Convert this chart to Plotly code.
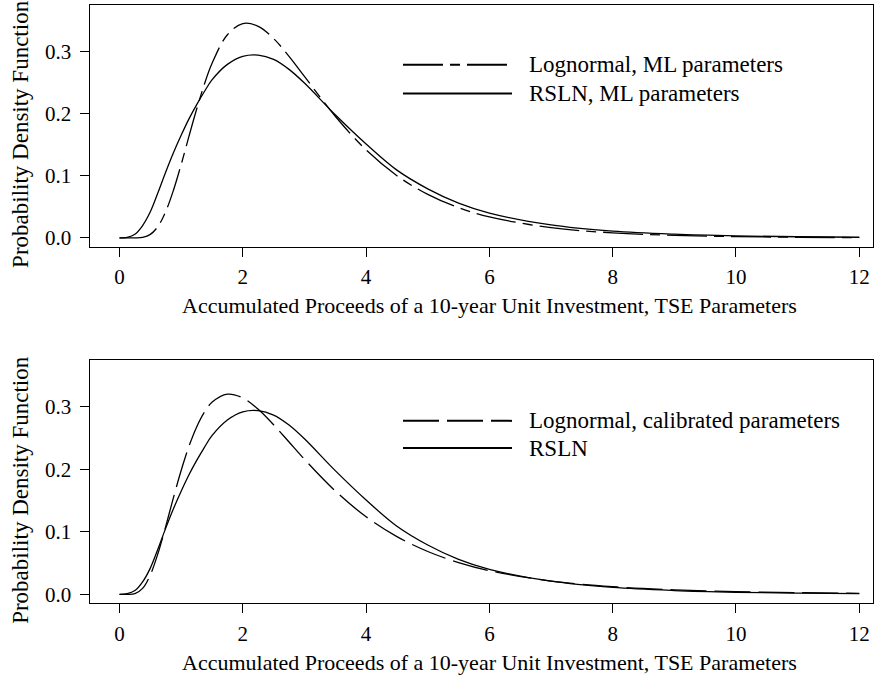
import plotly.graph_objects as go
from plotly.subplots import make_subplots

# values
x_grid = [0, 0.125, 0.25, 0.375, 0.5, 0.625, 0.75, 0.875, 1.0, 1.125, 1.25, 1.375,
          1.5, 1.75, 2.0, 2.25, 2.5, 2.75, 3.0, 3.5, 4.0, 4.5, 5.0, 5.5, 6.0,
          7.0, 8.0, 9.0, 10.0, 11.0, 12.0]
lognormal_ml = [0, 0, 0.0001, 0.0009, 0.0057, 0.0187, 0.0426, 0.0767, 0.118, 0.1628,
                0.2065, 0.2465, 0.2804, 0.3266, 0.3446, 0.3402, 0.3205, 0.2920,
                0.2597, 0.1956, 0.1415, 0.1001, 0.0700, 0.0487, 0.0339, 0.0165,
                0.0082, 0.0041, 0.0022, 0.0011, 0.0006]
rsln = [0, 0.001, 0.006, 0.020, 0.042, 0.073, 0.106, 0.137, 0.165, 0.191, 0.214,
        0.235, 0.254, 0.279, 0.292, 0.294, 0.287, 0.271, 0.249, 0.198, 0.151,
        0.109, 0.079, 0.056, 0.040, 0.021, 0.011, 0.006, 0.0033, 0.0019, 0.0011]
lognormal_cal = [0, 0, 0.0012, 0.0096, 0.0312, 0.0658, 0.1089, 0.1547, 0.1983,
                 0.2365, 0.2676, 0.2912, 0.3074, 0.3205, 0.3144, 0.2962, 0.2714,
                 0.2439, 0.2162, 0.1655, 0.1242, 0.0924, 0.0686, 0.0509, 0.0379,
                 0.0213, 0.0122, 0.0072, 0.0043, 0.0027, 0.0017]

x_ticks = [0, 2, 4, 6, 8, 10, 12]
y_ticks = [0.0, 0.1, 0.2, 0.3]
x_title = "Accumulated Proceeds of a 10-year Unit Investment, TSE Parameters"
y_title = "Probability Density Function"
top_labels = ["Lognormal, ML parameters", "RSLN, ML parameters"]
bottom_labels = ["Lognormal, calibrated parameters", "RSLN"]

FONT = "Liberation Serif"
W, H = 877, 681
DASHDOT = "40px,7px,10px,7px"
LONGDASH = "36px,8px"

fig = make_subplots(rows=2, cols=1)

panels = [
    (1, lognormal_ml, DASHDOT, top_labels),
    (2, lognormal_cal, LONGDASH, bottom_labels),
]
for row, ln_vals, dash, labels in panels:
    fig.add_trace(go.Scatter(x=x_grid, y=ln_vals, mode="lines", name=labels[0],
                             line=dict(color="black", width=1.3, dash=dash, shape="spline"),
                             showlegend=False), row=row, col=1)
    fig.add_trace(go.Scatter(x=x_grid, y=rsln, mode="lines", name=labels[1],
                             line=dict(color="black", width=1.3, shape="spline"),
                             showlegend=False), row=row, col=1)

# pixel boxes of the two panels (top, bottom)
x_dom = [89.5 / W, 872.6 / W]
y_doms = [[(H - 248) / H, (H - 5) / H], [(H - 606) / H, (H - 362) / H]]

axis_common = dict(showline=True, mirror=True, linecolor="black", linewidth=1,
                   ticks="outside", tickcolor="black", ticklen=9, tickwidth=1,
                   showgrid=False, zeroline=False,
                   tickfont=dict(family=FONT, size=21, color="black"))
for i, yd in enumerate(y_doms, start=1):
    fig.update_xaxes(row=i, col=1, domain=x_dom, range=[-0.4866, 12.216],
                     tickvals=x_ticks, ticklabelstandoff=2, **axis_common)
    fig.update_yaxes(row=i, col=1, domain=yd, range=[-0.0144, 0.3745],
                     tickvals=y_ticks, tickformat=".1f", ticklabelstandoff=4,
                     **axis_common)

annotations = []
shapes = []
for i, yd in enumerate(y_doms):
    bottom_px = H - yd[0] * H
    top_px = H - yd[1] * H
    annotations.append(dict(text=x_title, xref="paper", yref="paper",
                            x=(119.5 + 859.3) / 2 / W, y=1 - (bottom_px + 59) / H,
                            showarrow=False, xanchor="center", yanchor="middle",
                            font=dict(family=FONT, size=22, color="black")))
    annotations.append(dict(text=y_title, xref="paper", yref="paper",
                            x=21 / W, y=1 - ((top_px + bottom_px) / 2 + 8) / H,
                            textangle=-90, showarrow=False,
                            xanchor="center", yanchor="middle",
                            font=dict(family=FONT, size=23, color="black")))

# legends drawn as sample lines plus labels
legend_rows = [
    ([65, 94], [DASHDOT, "solid"], top_labels),
    ([422.7, 450], [LONGDASH, "solid"], bottom_labels),
]
for rows_px, dashes, labels in legend_rows:
    for ypx, dash, label in zip(rows_px, dashes, labels):
        yp = 1 - ypx / H
        shapes.append(dict(type="line", xref="paper", yref="paper",
                           x0=403 / W, x1=512 / W, y0=yp, y1=yp,
                           line=dict(color="black", width=2, dash=dash)))
        annotations.append(dict(text=label, xref="paper", yref="paper",
                                x=527 / W, y=yp, showarrow=False,
                                xanchor="left", yanchor="middle",
                                font=dict(family=FONT, size=23, color="black")))

fig.update_layout(
    width=W, height=H,
    margin=dict(l=0, r=0, t=0, b=0),
    plot_bgcolor="white", paper_bgcolor="white",
    font=dict(family=FONT, color="black"),
    annotations=annotations, shapes=shapes,
    showlegend=False,
)

fig.write_html("out.html", config={"displayModeBar": False},
               post_script="document.body.style.margin='0';")
